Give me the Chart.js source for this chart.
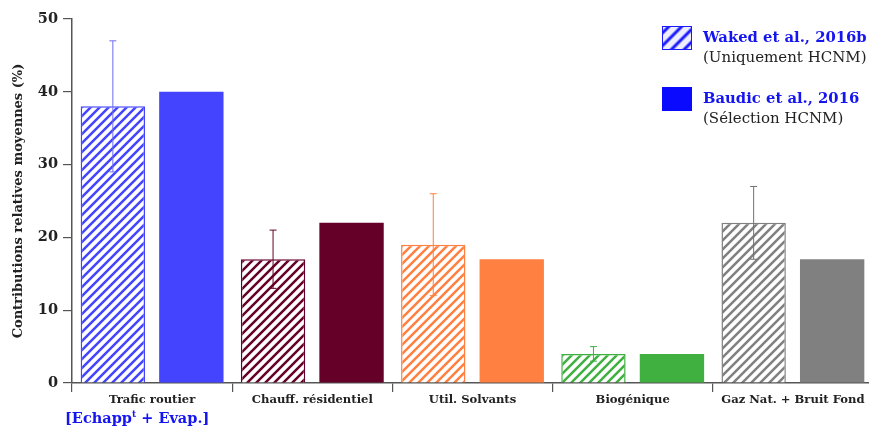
<!DOCTYPE html>
<html>
<head>
<meta charset="utf-8">
<script src="https://cdn.jsdelivr.net/npm/chart.js@4"></script>
<style>
  html, body { margin: 0; padding: 0; background: #fff; overflow: hidden; }
  #wrap { position: relative; width: 869px; height: 430px; overflow: hidden; }
  #chart { position: absolute; left: 0; top: 0; }
  .lg { position: absolute; font-family: "DejaVu Serif", serif; }
  .sw { position: absolute; width: 28px; height: 22px; border: 1.5px solid #1a1aff; }
  .lt { position: absolute; left: 703px; white-space: nowrap; line-height: 20px; }
  .lt b { color: #1515f0; font-size: 14.8px; display: block; }
  .lt span { color: #222; font-size: 15px; display: block; }
  #note { position: absolute; left: 65px; top: 409px; color: #1515f0; font: bold 14.5px "DejaVu Serif", serif; white-space: nowrap; }
  #note sup { font-size: 9px; }
</style>
</head>
<body>
<div id="wrap">
  <canvas id="chart" width="874" height="430"></canvas>
  <div class="lg">
    <div class="sw" id="sw1" style="left:662px; top:26px;"></div>
    <div class="lt" style="top:27px;"><b>Waked et al., 2016b</b><span>(Uniquement HCNM)</span></div>
    <div class="sw" style="left:662px; top:87px; background:#0a0aff; border-color:#0a0aff;"></div>
    <div class="lt" style="top:88px;"><b>Baudic et al., 2016</b><span>(Sélection HCNM)</span></div>
  </div>
  <div id="note">[Echapp<sup>t</sup> + Evap.]</div>
</div>
<script>
const categories = ["Trafic routier", "Chauff. résidentiel", "Util. Solvants", "Biogénique", "Gaz Nat. + Bruit Fond"];
const wakedValues = [38, 17, 19, 4, 22];
const wakedErrors = [9, 4, 7, 1, 5];
const baudicValues = [40, 22, 17, 4, 17];
const yMin = 0;
const yMax = 50;
const yStep = 10;
const colors = ["#4444ff", "#650029", "#ff8040", "#40b040", "#808080"];
const errColors = ["#6d6df0", "#650029", "#ff8040", "#40b040", "#707070"];

// diagonal stripes "/" on white
function hatch(color) {
  const s = 9;
  const c = document.createElement("canvas");
  c.width = s;
  c.height = s;
  const g = c.getContext("2d");
  g.fillStyle = "#fff";
  g.fillRect(0, 0, s, s);
  g.strokeStyle = color;
  g.lineWidth = 2.5;
  g.beginPath();
  g.moveTo(-s / 2, s / 2); g.lineTo(s / 2, -s / 2);
  g.moveTo(0, s); g.lineTo(s, 0);
  g.moveTo(s / 2, s * 1.5); g.lineTo(s * 1.5, s / 2);
  g.stroke();
  return g.createPattern(c, "repeat");
}

document.getElementById("sw1").style.background =
  "repeating-linear-gradient(-45deg, #eef 0 2px, #1a1aff 4px 5px, #eef 7px 9px)";

const errorBars = {
  id: "errorBars",
  afterDatasetsDraw(chart) {
    const ctx = chart.ctx;
    const y = chart.scales.y;
    const meta = chart.getDatasetMeta(0);
    ctx.save();
    ctx.lineWidth = 1;
    meta.data.forEach((bar, i) => {
      const top = y.getPixelForValue(wakedValues[i] + wakedErrors[i]);
      const bot = y.getPixelForValue(wakedValues[i] - wakedErrors[i]);
      ctx.strokeStyle = errColors[i];
      ctx.beginPath();
      ctx.moveTo(bar.x, top); ctx.lineTo(bar.x, bot);
      ctx.moveTo(bar.x - 3.5, top); ctx.lineTo(bar.x + 3.5, top);
      ctx.moveTo(bar.x - 3.5, bot); ctx.lineTo(bar.x + 3.5, bot);
      ctx.stroke();
    });
    ctx.restore();
  }
};

new Chart(document.getElementById("chart"), {
  type: "bar",
  data: {
    labels: categories,
    datasets: [
      {
        label: "Waked et al., 2016b",
        data: wakedValues,
        backgroundColor: colors.map(hatch),
        borderColor: colors,
        borderWidth: 1.5,
        categoryPercentage: 0.98,
        barPercentage: 0.82
      },
      {
        label: "Baudic et al., 2016",
        data: baudicValues,
        backgroundColor: colors,
        borderColor: colors,
        borderWidth: 0,
        categoryPercentage: 0.98,
        barPercentage: 0.82
      }
    ]
  },
  options: {
    responsive: false,
    animation: false,
    layout: { padding: { top: 19, right: 1, left: 0, bottom: 0 } },
    plugins: { legend: { display: false }, tooltip: { enabled: false } },
    scales: {
      x: {
        grid: { display: true, drawOnChartArea: false, offset: true, tickLength: 9, color: "#555", lineWidth: 1.2 },
        border: { color: "#555", width: 1.5 },
        ticks: { color: "#222", padding: 1, font: { family: "DejaVu Serif", weight: "bold", size: 11.6 } },
        afterFit(scale) { scale.height = 47; }
      },
      y: {
        min: yMin,
        max: yMax,
        ticks: { stepSize: yStep, color: "#222", padding: 5, font: { family: "DejaVu Serif", weight: "bold", size: 14.5 } },
        grid: { drawOnChartArea: false, tickLength: 9, color: "#555", lineWidth: 1.2 },
        border: { color: "#555", width: 1.5 },
        title: {
          display: true,
          text: "Contributions relatives moyennes (%)",
          color: "#222",
          padding: { top: 11, bottom: 0 },
          font: { family: "DejaVu Serif", weight: "bold", size: 13 }
        },
        afterFit(scale) { scale.width = 72; }
      }
    }
  },
  plugins: [errorBars]
});
</script>
</body>
</html>
